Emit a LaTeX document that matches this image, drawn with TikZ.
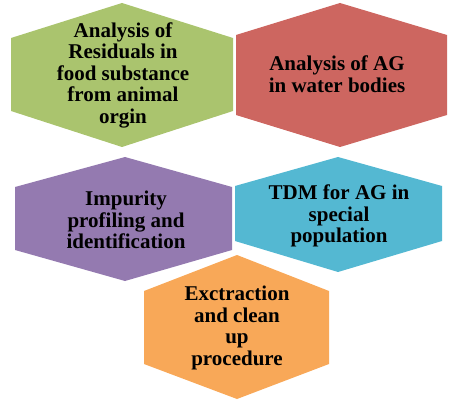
\documentclass[tikz,border=0pt]{standalone}
\usepackage{fontspec}
\setmainfont{Liberation Serif}
\usepackage{tikz}
\definecolor{hexgreen}{RGB}{170,196,110}
\definecolor{hexred}{RGB}{205,102,96}
\definecolor{hexpurple}{RGB}{148,122,176}
\definecolor{hexblue}{RGB}{84,184,210}
\definecolor{hexorange}{RGB}{248,168,88}
% colour, centre x, top, bottom, left, right, upper side, lower side
\newcommand\hexfill[8]{%
  \fill[#1] (#2,#3) -- (#6,#7) -- (#6,#8) -- (#2,#4) -- (#5,#8) -- (#5,#7) -- cycle;}

\begin{document}
\begin{tikzpicture}[x=1pt, y=-1pt,
    lbl/.style={align=center, inner sep=0pt, font=\fontsize{21}{21.5}\selectfont\bfseries}]
  \useasboundingbox (0,0) rectangle (460,406);

  \hexfill{hexgreen}{122}{3}{147}{11}{233}{38}{111}
  \hexfill{hexred}{340}{3}{147}{236}{447}{35}{115}
  \hexfill{hexpurple}{125}{157}{281}{15}{232}{187}{250}
  \hexfill{hexblue}{338}{157}{272}{235}{442}{186}{241}
  \hexfill{hexorange}{237}{255}{399}{144}{329}{291}{364}

  \node[lbl] (resid) at (123,75) {Analysis of\\Residuals in\\food substance\\from animal\\orgin};
  \node[lbl] (water) at (337,74) {Analysis of AG\\in water bodies};
  \node[lbl] (impur) at (126,220) {Impurity\\profiling and\\identification};
  \node[lbl] (tdm) at (339,216) {TDM for AG in\\special\\population};
  \node[lbl] (extr) at (237,328) {Exctraction\\and clean\\up\\procedure};
\end{tikzpicture}
\end{document}
